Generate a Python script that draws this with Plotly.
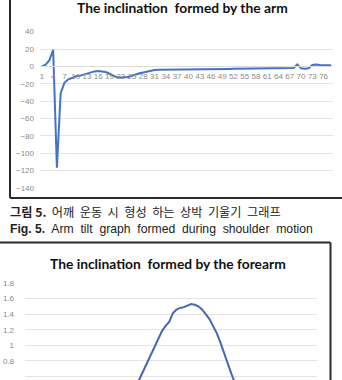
import plotly.graph_objects as go

# ---------------- data ----------------
arm_categories = list(range(1, 79))
arm_values = [0, 2, 7, 19, -117, -31, -19, -15, -13.5, -11.5,
              -11, -9.6, -8.5, -7, -5.8, -5.4, -5.8, -6.5, -8.5, -11,
              -12.7, -13, -13, -12.3, -10.8, -9.2, -8, -7, -5.8, -5,
              -4.2, -3.8, -3.8, -3.8, -3.8, -3.8, -3.8, -3.8, -3.8, -3.8,
              -3.7, -3.6, -3.6, -3.5, -3.5, -3.4, -3.3, -3.2, -3.1, -3,
              -3, -2.9, -2.8, -2.8, -2.7, -2.5, -2.3, -2.3, -2.3, -2.3,
              -2.3, -2.3, -2.3, -2.3, -2.3, -2.2, -2.1, -2, 2.3, -2.3,
              -2.7, -2.3, 1.5, 2, 1.5, 1.3, 1.3, 1.3]
arm_tick_labels = [str(v) for v in [1, 4, 7, 10, 13, 16, 19, 22, 25, 28, 31, 34, 37, 40,
                                     43, 46, 49, 52, 55, 58, 61, 64, 67, 70, 73, 76]]
arm_y_ticks = [40, 20, 0, -20, -40, -60, -80, -100, -120, -140]

forearm_index = list(range(30, 60))
forearm_values = [0.40, 0.48, 0.58, 0.68, 0.78, 0.88, 0.98, 1.08, 1.18, 1.25,
                  1.30, 1.41, 1.46, 1.48, 1.49, 1.51, 1.53, 1.52, 1.50, 1.46,
                  1.40, 1.34, 1.25, 1.16, 1.04, 0.90, 0.78, 0.64, 0.52, 0.42]
forearm_y_ticks = [0.6, 0.8, 1.0, 1.2, 1.4, 1.6, 1.8]
forearm_y_labels = ["0.6", "0.8", "1", "1.2", "1.4", "1.6", "1.8"]

title_arm = "The inclination  formed by the arm"
title_forearm = "The inclination  formed by the forearm"
caption_ko = "<b>그림 5.</b>  어깨  운동  시  형성  하는  상박  기울기  그래프"
caption_en = "<b>Fig. 5.</b>  Arm  tilt  graph  formed  during  shoulder  motion"

# ---------------- styles ----------------
W, H = 342, 380
LINE = "#4472C4"
GRID = "#e4e4e4"
TICKC = "#8a8a8a"

fig = go.Figure()
fig.add_trace(go.Scatter(x=arm_categories, y=arm_values, mode="lines",
                         line=dict(color=LINE, width=2), xaxis="x", yaxis="y",
                         hoverinfo="skip"))
fig.add_trace(go.Scatter(x=forearm_index, y=forearm_values, mode="lines",
                         line=dict(color="#4a66b0", width=2), xaxis="x2", yaxis="y2",
                         hoverinfo="skip"))

def py(px):
    return (H - px) / H

def pxx(px):
    return px / W

# chart 1 axes
y1_lo, y1_hi = -141, 41
y1_dom = [py(188.6), py(30.8)]
zero_pos = y1_dom[0] + (0 - y1_lo) / (y1_hi - y1_lo) * (y1_dom[1] - y1_dom[0])

fig.update_layout(
    width=W, height=H, margin=dict(l=0, r=0, t=0, b=0),
    paper_bgcolor="white", plot_bgcolor="white", showlegend=False,
    template="none",
    xaxis=dict(domain=[pxx(40), pxx(333)], range=[0.5, 78.5], anchor="free",
               position=zero_pos, tickvals=[int(t) for t in arm_tick_labels],
               ticktext=arm_tick_labels, showgrid=False, zeroline=False,
               showline=True, linecolor="#dcdcdc", linewidth=1, ticks="",
               tickfont=dict(family="Liberation Sans", size=8, color=TICKC),
               tickangle=0, automargin=False, ticklabelstandoff=2),
    yaxis=dict(domain=y1_dom, range=[y1_lo, y1_hi], tickvals=arm_y_ticks,
               showgrid=True, gridcolor=GRID, gridwidth=1, zeroline=False,
               showline=False, ticks="",
               tickfont=dict(family="Liberation Sans", size=8, color=TICKC),
               automargin=False, ticklabelstandoff=5),
    xaxis2=dict(domain=[pxx(25), pxx(317)], range=[0.5, 80.5], anchor="y2",
                showticklabels=False, showgrid=False, zeroline=False,
                showline=False, ticks="", automargin=False),
    yaxis2=dict(domain=[0, py(282.2)], range=[0.555, 1.81], anchor="x2",
                tickvals=forearm_y_ticks, ticktext=forearm_y_labels,
                showgrid=True, gridcolor=GRID, gridwidth=1, zeroline=False,
                showline=False, ticks="",
                tickfont=dict(family="Liberation Sans", size=8, color=TICKC),
                automargin=False, ticklabelstandoff=10),
)

# box borders
BORDER = dict(color="#2a2a2a", width=2)
fig.add_shape(type="line", xref="paper", yref="paper", x0=pxx(10), x1=pxx(10),
              y0=py(0), y1=py(198), line=BORDER)
fig.add_shape(type="line", xref="paper", yref="paper", x0=pxx(10), x1=1,
              y0=py(198), y1=py(198), line=BORDER)
fig.add_shape(type="line", xref="paper", yref="paper", x0=0, x1=pxx(330.5),
              y0=py(242.5), y1=py(242.5), line=BORDER)
fig.add_shape(type="line", xref="paper", yref="paper", x0=pxx(330.5), x1=pxx(330.5),
              y0=py(242.5), y1=0, line=BORDER)

# titles and captions
fig.add_annotation(text="<b>" + title_arm + "</b>", xref="paper", yref="paper",
                   x=pxx(182), y=py(8), showarrow=False, xanchor="center", yanchor="middle",
                   font=dict(family="Lato", size=13.8, color="#111111"))
fig.add_annotation(text="<b>" + title_forearm + "</b>", xref="paper", yref="paper",
                   x=pxx(168), y=py(263), showarrow=False, xanchor="center", yanchor="middle",
                   font=dict(family="Lato", size=13.8, color="#111111"))
fig.add_annotation(text=caption_ko, xref="paper", yref="paper",
                   x=pxx(8), y=py(212), showarrow=False, xanchor="left", yanchor="middle",
                   font=dict(family="Noto Sans CJK KR", size=12.2, color="#222222"))
fig.add_annotation(text=caption_en, xref="paper", yref="paper",
                   x=pxx(8), y=py(228.5), showarrow=False, xanchor="left", yanchor="middle",
                   font=dict(family="Liberation Sans", size=12.2, color="#222222"))

fig.write_html("out.html")
